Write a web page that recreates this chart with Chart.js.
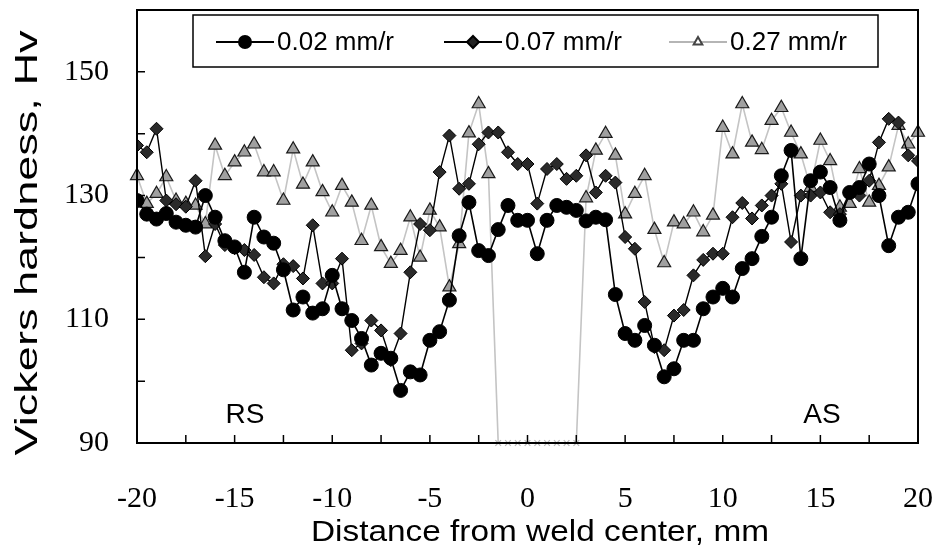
<!DOCTYPE html>
<html>
<head>
<meta charset="utf-8">
<script src="https://cdn.jsdelivr.net/npm/chart.js@4.4.1/dist/chart.umd.min.js"></script>
<style>
  html, body { margin: 0; padding: 0; background: #fff; }
  #wrap { width: 941px; height: 555px; }
</style>
</head>
<body>
<div id="wrap"><canvas id="grafico" width="941" height="555"></canvas></div>
<script>
// distance from weld center, mm
const distancia = [
  -20, -19.5, -19, -18.5, -18, -17.5, -17, -16.5, -16, -15.5,
  -15, -14.5, -14, -13.5, -13, -12.5, -12, -11.5, -11, -10.5,
  -10, -9.5, -9, -8.5, -8, -7.5, -7, -6.5, -6, -5.5,
  -5, -4.5, -4, -3.5, -3, -2.5, -2, -1.5, -1, -0.5,
  0, 0.5, 1, 1.5, 2, 2.5, 3, 3.5, 4, 4.5,
  5, 5.5, 6, 6.5, 7, 7.5, 8, 8.5, 9, 9.5,
  10, 10.5, 11, 11.5, 12, 12.5, 13, 13.5, 14, 14.5,
  15, 15.5, 16, 16.5, 17, 17.5, 18, 18.5, 19, 19.5, 20
];

// 0.02 mm/r
const hv002 = [
  129.2, 127.0, 126.2, 127.1, 125.7, 125.2, 124.9, 130.0, 126.5, 122.7,
  121.7, 117.6, 126.5, 123.3, 122.3, 118.0, 111.5, 113.6, 111.0, 111.7,
  117.1, 111.7, 109.8, 106.9, 102.6, 104.5, 103.7, 98.5, 101.5, 101.0,
  106.6, 108.0, 113.1, 123.5, 128.9, 121.1, 120.3, 124.5, 128.4, 126.0,
  126.0, 120.6, 126.0, 128.4, 128.1, 127.6, 125.9, 126.5, 126.1, 114.0,
  107.7, 106.6, 109.0, 105.8, 100.7, 102.0, 106.6, 106.6, 111.7, 113.6,
  115.0, 113.6, 118.2, 119.8, 123.4, 126.5, 133.2, 137.3, 119.8, 132.4,
  133.8, 131.3, 126.0, 130.5, 131.3, 135.1, 130.0, 121.9, 126.5, 127.3, 131.9
];

// 0.07 mm/r
const hv007 = [
  138.1, 137.0, 140.8, 129.2, 128.6, 128.2, 132.4, 120.2, 125.4, 122.0,
  121.5, 121.2, 120.4, 116.8, 115.8, 118.9, 118.6, 116.6, 125.2, 115.8,
  115.8, 119.8, 105.0, 106.1, 109.8, 108.2, 103.4, 107.7, 117.6, 125.4,
  124.4, 133.8, 139.7, 131.1, 131.9, 138.3, 140.2, 140.2, 137.0, 135.1,
  135.1, 128.7, 134.3, 135.1, 132.7, 133.2, 136.5, 130.5, 133.2, 132.1,
  123.3, 121.4, 112.8, 105.5, 105.0, 110.6, 111.5, 117.1, 119.6, 120.6,
  120.6, 126.5, 128.8, 126.3, 128.4, 130.0, 131.9, 122.5, 130.0, 130.0,
  130.5, 127.3, 127.0, 130.5, 130.0, 132.4, 138.6, 142.4, 141.8, 136.5, 135.6
];

// 0.27 mm/r (90 = no measurement, drawn as x)
const hv027 = [
  133.2, 128.7, 130.3, 133.0, 129.2, 128.7, 128.4, 125.4, 138.1, 133.2,
  135.4, 137.0, 138.3, 133.8, 133.8, 129.2, 137.5, 131.8, 135.4, 130.6,
  127.3, 131.6, 128.9, 122.7, 128.4, 121.7, 119.0, 121.1, 126.5, 120.0,
  127.6, 124.9, 115.2, 122.2, 140.1, 144.8, 133.5, 90, 90, 90,
  90, 90, 90, 90, 90, 90, 129.6, 137.3, 140.0, 136.5,
  127.0, 130.3, 133.2, 124.5, 119.1, 125.7, 125.4, 127.3, 124.1, 126.8,
  141.0, 136.7, 144.8, 138.6, 137.4, 142.1, 144.2, 140.2, 136.7, 131.3,
  138.9, 135.6, 128.1, 128.7, 134.3, 128.9, 131.6, 134.6, 141.3, 138.3, 140.2
];

const rotulos = ['0.02 mm/r', '0.07 mm/r', '0.27 mm/r'];
const ticksY = [90, 110, 130, 150];
const ticksX = [-20, -15, -10, -5, 0, 5, 10, 15, 20];
const tituloX = 'Distance from weld center, mm';
const tituloY = 'Vickers hardness, Hv';

function pontos(serie) {
  return distancia.map((x, i) => ({ x: x, y: serie[i] }));
}

const AREA = { left: 137, right: 918, top: 10, bottom: 443 };
const SANS = '"Liberation Sans", Arial, sans-serif';
const SERIF = '"Liberation Serif", "Times New Roman", serif';

// escreve um texto esticado para ocupar a largura pedida
function textoEsticado(ctx, texto, cx, cy, largura, angulo) {
  const w = ctx.measureText(texto).width;
  ctx.save();
  ctx.translate(cx, cy);
  ctx.rotate(angulo);
  ctx.scale(largura / w, 1);
  ctx.fillText(texto, 0, 0);
  ctx.restore();
}

// moldura, ticks internos, títulos, legenda e RS/AS
const moldura = {
  id: 'moldura',
  afterDraw(chart) {
    const ctx = chart.ctx;
    const a = chart.chartArea;
    const sx = chart.scales.x;
    const sy = chart.scales.y;
    ctx.save();
    ctx.strokeStyle = '#000';
    ctx.lineWidth = 2;
    ctx.strokeRect(a.left, a.top, a.right - a.left, a.bottom - a.top);

    ctx.lineWidth = 1.5;
    ctx.beginPath();
    sx.ticks.forEach(t => {
      const px = sx.getPixelForValue(t.value);
      ctx.moveTo(px, a.bottom);
      ctx.lineTo(px, a.bottom - 8);
    });
    sy.ticks.forEach(t => {
      const py = sy.getPixelForValue(t.value);
      ctx.moveTo(a.left, py);
      ctx.lineTo(a.left + 8, py);
    });
    ctx.stroke();

    // títulos dos eixos
    ctx.fillStyle = '#000';
    ctx.textAlign = 'center';
    ctx.textBaseline = 'middle';
    ctx.font = '29px ' + SANS;
    textoEsticado(ctx, tituloX, 540, 533, 458, 0);
    ctx.font = '31px ' + SANS;
    textoEsticado(ctx, tituloY, 28, 243, 425, -Math.PI / 2);

    // legenda
    ctx.fillStyle = '#fff';
    ctx.fillRect(193, 15, 685, 52);
    ctx.lineWidth = 1.5;
    ctx.strokeStyle = '#000';
    ctx.strokeRect(193, 15, 685, 52);
    const itens = [
      { x: 216, cor: '#000', tipo: 'circle' },
      { x: 444, cor: '#000', tipo: 'rectRot' },
      { x: 669, cor: '#b5b5b5', tipo: 'triangle' }
    ];
    ctx.font = '26px ' + SANS;
    ctx.textBaseline = 'middle';
    itens.forEach((it, i) => {
      const yc = 42;
      ctx.strokeStyle = it.cor;
      ctx.lineWidth = 2;
      ctx.beginPath();
      ctx.moveTo(it.x, yc);
      ctx.lineTo(it.x + 58, yc);
      ctx.stroke();
      const opts = {
        pointStyle: it.tipo,
        radius: it.tipo === 'triangle' ? 5 : 6,
        rotation: 0,
        borderWidth: 1
      };
      ctx.fillStyle = it.tipo === 'triangle' ? '#fff' : (it.tipo === 'rectRot' ? '#222' : '#000');
      ctx.strokeStyle = it.tipo === 'triangle' ? '#444' : '#000';
      Chart.helpers.drawPoint(ctx, opts, it.x + 29, yc);
      ctx.fillStyle = '#000';
      ctx.textAlign = 'left';
      ctx.fillText(rotulos[i], it.x + 61, yc + 1);
    });

    // RS / AS
    ctx.font = '28px ' + SANS;
    ctx.textAlign = 'center';
    ctx.fillText('RS', 245, 415);
    ctx.fillText('AS', 822, 415);
    ctx.restore();
  }
};

const grafico = new Chart(document.getElementById('grafico').getContext('2d'), {
  type: 'line',
  data: {
    datasets: [
      {
        label: rotulos[0],
        data: pontos(hv002),
        borderColor: '#000',
        borderWidth: 1.6,
        pointStyle: 'circle',
        pointRadius: 7,
        pointBackgroundColor: '#000',
        pointBorderColor: '#000',
        pointBorderWidth: 1
      },
      {
        label: rotulos[1],
        data: pontos(hv007),
        borderColor: '#000',
        borderWidth: 1.4,
        pointStyle: 'rectRot',
        pointRadius: 6.5,
        pointBackgroundColor: '#2a2a2a',
        pointBorderColor: '#000',
        pointBorderWidth: 1
      },
      {
        label: rotulos[2],
        data: pontos(hv027),
        borderColor: '#c4c4c4',
        borderWidth: 1.6,
        clip: false,
        pointStyle: c => (c.raw && c.raw.y <= 90 ? 'crossRot' : 'triangle'),
        pointRadius: c => (c.raw && c.raw.y <= 90 ? 4 : 7.5),
        pointBackgroundColor: '#a0a0a0',
        pointBorderColor: c => (c.raw && c.raw.y <= 90 ? '#b8b8b8' : '#1a1a1a'),
        pointBorderWidth: 1.2
      }
    ]
  },
  options: {
    responsive: false,
    animation: false,
    layout: { padding: { left: 0, right: 941 - AREA.right, top: AREA.top, bottom: 0 } },
    elements: { line: { tension: 0 } },
    plugins: {
      legend: { display: false },
      tooltip: { enabled: false }
    },
    scales: {
      x: {
        type: 'linear',
        min: -20,
        max: 20,
        grid: { display: false },
        border: { display: false },
        afterBuildTicks: s => {
          const t = [];
          for (let v = -20; v <= 20; v += 2.5) t.push({ value: v });
          s.ticks = t;
        },
        afterFit: s => {
          s.height = 555 - AREA.bottom;
          s.paddingLeft = 0;
          s.paddingRight = 0;
        },
        ticks: {
          autoSkip: false,
          maxRotation: 0,
          padding: 30,
          color: '#000',
          font: { family: SERIF, size: 30 },
          callback: v => (ticksX.includes(v) ? String(v) : '')
        }
      },
      y: {
        min: 90,
        max: 160,
        grid: { display: false },
        border: { display: false },
        afterBuildTicks: s => {
          const t = [];
          for (let v = 90; v <= 160; v += 10) t.push({ value: v });
          s.ticks = t;
        },
        afterFit: s => {
          s.width = AREA.left;
          s.paddingTop = 0;
          s.paddingBottom = 0;
        },
        ticks: {
          autoSkip: false,
          padding: 20,
          color: '#000',
          font: { family: SERIF, size: 30 },
          callback: v => (ticksY.includes(v) ? String(v) : '')
        }
      }
    }
  },
  plugins: [moldura]
});
</script>
</body>
</html>
